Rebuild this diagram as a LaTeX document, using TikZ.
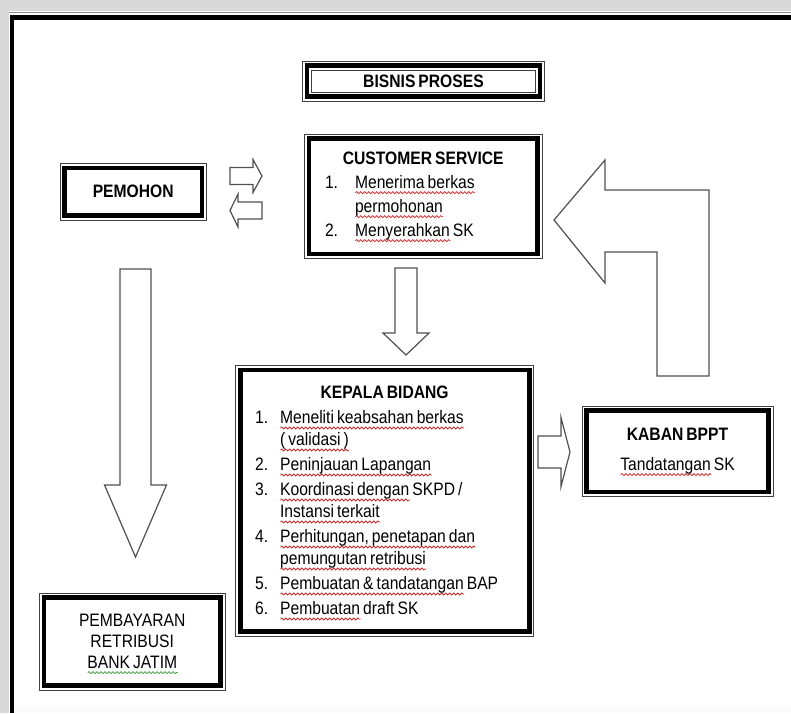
\documentclass[tikz,border=0pt]{standalone}
\usepackage{fontspec}
\setmainfont{Liberation Sans}[FakeStretch=0.87,WordSpace=0.7]
\usetikzlibrary{calc,decorations.pathmorphing}

\definecolor{bggray}{HTML}{D9D9D9}
\definecolor{sqred}{HTML}{D03030}
\definecolor{sqgreen}{HTML}{3C9A3C}
\definecolor{arrowgray}{HTML}{505050}

% wavy spell-check underline
\newlength\sqwd
\newcommand\squig[2][sqred]{\settowidth\sqwd{#2}\leavevmode\rlap{\raisebox{-2pt}[0pt][0pt]{\tikz[baseline=0pt]\draw[#1,line width=.4pt,decorate,decoration={snake,amplitude=.5pt,segment length=2pt}] (0pt,0pt) -- (\sqwd,0pt);}}#2}
% numbered line with hanging indent
\newcommand\itm[3][12.5pt]{\par\noindent\hangindent=#1\hangafter=1\makebox[#1][l]{#2}#3}

\tikzset{
  boxframe/.style={draw, line width=2.4pt, outer sep=0pt, inner sep=0pt, align=center,
    font=\fontsize{9pt}{11pt}\selectfont\bfseries},
  listbox/.style={align=left, inner ysep=0pt, font=\fontsize{9pt}{11pt}\selectfont},
  thinframe/.style={line width=.5pt, draw=black!75},
  arrowline/.style={draw=arrowgray, line width=.6pt, fill=white, line join=miter},
  pics/barrow/.style args={#1/#2/#3/#4}{code={
    \draw[arrowline] (0,-#2) -- (#1-#4,-#2) -- (#1-#4,-#3) -- (#1,0) -- (#1-#4,#3) -- (#1-#4,#2) -- (0,#2) -- cycle;}}
}

\begin{document}
\begin{tikzpicture}[x=0.5pt,y=-0.5pt]
\useasboundingbox (0,0) rectangle (791,713);

% page border
\fill[white] (0,0) rectangle (791,713);
\fill[bggray] (0,0) rectangle (791,11);
\fill[bggray] (0,0) rectangle (9,713);
\fill[black!2] (14,707) rectangle (791,713);
\draw[black!45,line width=.5pt] (9,12.5) -- (791,12.5);
\draw[line width=2.5pt] (10,17.5) -- (791,17.5);
\draw[line width=2pt] (12,15) -- (12,713);

% boxes
\node[boxframe, minimum width=116.5pt, minimum height=15.5pt] (bisnis) at (423.5,81) {BISNIS PROSES};
\node[boxframe, minimum width=68.75pt, minimum height=23.75pt] (pemohon) at (133.25,191.75) {PEMOHON};
\node[boxframe, listbox, minimum width=114.25pt, minimum height=57.75pt, inner xsep=8pt, text width=98.25pt,
  font=\fontsize{9pt}{12pt}\selectfont] (cs) at (423.25,196.25) {\spaceskip=0pt\xspaceskip=0pt
  {\centering\textbf{CUSTOMER SERVICE}\par}
  \itm[15pt]{1.}{\squig{Menerima berkas}\newline\squig{permohonan}}
  \itm[15pt]{2.}{\squig{Menyerahkan} SK}};
\node[boxframe, listbox, minimum width=144.5pt, minimum height=130.75pt, inner xsep=7.5pt, text width=129.5pt]
  (kb) at (384.6,500.75) {\spaceskip=0pt\xspaceskip=0pt\setlength{\parskip}{1.5pt}%
  {\centering\textbf{KEPALA BIDANG}\par}
  \itm{1.}{\squig{Meneliti keabsahan berkas}\newline\squig{( validasi )}}
  \itm{2.}{\squig{Peninjauan Lapangan}}
  \itm{3.}{\squig{Koordinasi dengan} SKPD /\newline\squig{Instansi terkait}}
  \itm{4.}{\squig{Perhitungan, penetapan dan}\newline\squig{pemungutan retribusi}}
  \itm{5.}{\squig{Pembuatan \& tandatangan} BAP}
  \itm{6.}{\squig{Pembuatan} draft SK}};
\node[boxframe, minimum width=91pt, minimum height=40.75pt, font=\fontsize{9pt}{12pt}\selectfont]
  (kaban) at (677.5,451.25) {\textbf{KABAN BPPT}\\[3pt]\squig{Tandatangan} SK};
\node[boxframe, minimum width=88.25pt, minimum height=44pt, font=\fontsize{9pt}{10.5pt}\selectfont]
  (bayar) at (132.25,641.5) {PEMBAYARAN\\RETRIBUSI\\\squig[sqgreen]{BANK JATIM}};

\foreach \n in {bisnis,pemohon,cs,kb,kaban,bayar}
  \draw[thinframe] ([shift={(-4.5,4.5)}]\n.south west) rectangle ([shift={(4.5,-4.5)}]\n.north east);
\draw[thinframe] ([shift={(4.5,-4.5)}]bisnis.south west) rectangle ([shift={(-4.5,4.5)}]bisnis.north east);

% block arrows
\pic at (230,176) {barrow=32/8.5/16.5/9};
\pic[rotate=180] at (262,210.5) {barrow=32/8.5/16.5/8};
\pic[rotate=-90] at (406,268) {barrow=87/11/23/22};
\pic[rotate=-90] at (135.5,269) {barrow=288/15.5/31/72};
\pic at (538,452) {barrow=32/16/34.5/9};
\draw[arrowline] (554,220) -- (605,160) -- (605,190) -- (709,190) -- (709,376) -- (657,376)
  -- (657,252) -- (605,252) -- (605,283) -- cycle;
\end{tikzpicture}
\end{document}
